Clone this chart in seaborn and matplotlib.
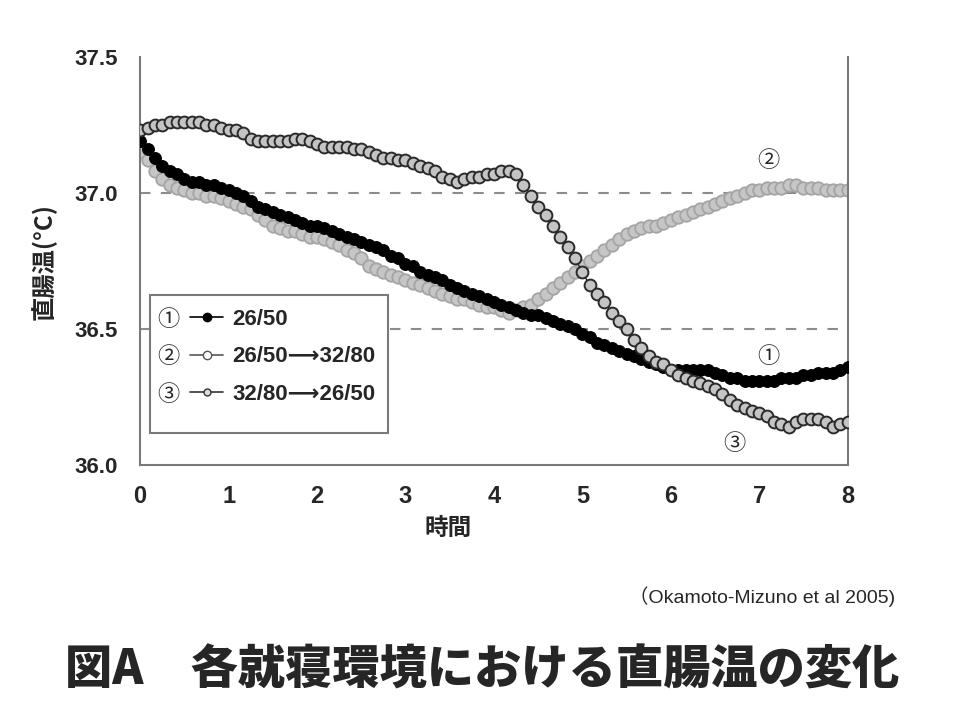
import numpy as np
import matplotlib
matplotlib.use("Agg")
import matplotlib.pyplot as plt
from matplotlib.lines import Line2D
from matplotlib.patches import Rectangle
import seaborn as sns

# time axis: one reading every 5 minutes for 8 hours
hours = np.arange(0, 97) * 5 / 60

# 1: 26/50
rt_1 = [37.19, 37.16, 37.13, 37.10, 37.08, 37.07, 37.05, 37.04, 37.04, 37.03,
        37.03, 37.02, 37.01, 37.00, 36.99, 36.97, 36.95, 36.94, 36.93, 36.92,
        36.91, 36.90, 36.89, 36.88, 36.88, 36.87, 36.86, 36.85, 36.84, 36.83,
        36.82, 36.81, 36.80, 36.79, 36.77, 36.76, 36.74, 36.73, 36.71, 36.70,
        36.69, 36.68, 36.66, 36.65, 36.64, 36.63, 36.62, 36.61, 36.60, 36.59,
        36.58, 36.57, 36.56, 36.55, 36.55, 36.54, 36.53, 36.52, 36.51, 36.50,
        36.48, 36.47, 36.45, 36.44, 36.43, 36.42, 36.41, 36.40, 36.39, 36.38,
        36.37, 36.36, 36.35, 36.35, 36.35, 36.35, 36.35, 36.35, 36.34, 36.33,
        36.32, 36.32, 36.31, 36.31, 36.31, 36.31, 36.31, 36.32, 36.32, 36.32,
        36.33, 36.33, 36.34, 36.34, 36.34, 36.35, 36.36]

# 2: 26/50 -> 32/80
rt_2 = [37.15, 37.12, 37.08, 37.05, 37.03, 37.02, 37.01, 37.00, 37.00, 36.99,
        36.99, 36.98, 36.97, 36.96, 36.95, 36.94, 36.92, 36.90, 36.88, 36.87,
        36.86, 36.86, 36.85, 36.84, 36.84, 36.83, 36.82, 36.81, 36.79, 36.78,
        36.76, 36.73, 36.72, 36.71, 36.70, 36.69, 36.68, 36.67, 36.66, 36.65,
        36.64, 36.63, 36.62, 36.61, 36.61, 36.60, 36.59, 36.58, 36.58, 36.57,
        36.56, 36.57, 36.58, 36.59, 36.61, 36.63, 36.65, 36.67, 36.69, 36.71,
        36.73, 36.75, 36.77, 36.79, 36.81, 36.83, 36.85, 36.86, 36.87, 36.88,
        36.88, 36.89, 36.90, 36.91, 36.92, 36.93, 36.94, 36.95, 36.96, 36.97,
        36.98, 36.99, 37.00, 37.01, 37.01, 37.02, 37.02, 37.02, 37.03, 37.03,
        37.02, 37.02, 37.02, 37.01, 37.01, 37.01, 37.01]

# 3: 32/80 -> 26/50
rt_3 = [37.23, 37.24, 37.25, 37.25, 37.26, 37.26, 37.26, 37.26, 37.26, 37.25,
        37.25, 37.24, 37.23, 37.23, 37.22, 37.20, 37.19, 37.19, 37.19, 37.19,
        37.19, 37.20, 37.20, 37.19, 37.18, 37.17, 37.17, 37.17, 37.17, 37.16,
        37.16, 37.15, 37.14, 37.13, 37.13, 37.12, 37.12, 37.11, 37.10, 37.09,
        37.08, 37.06, 37.05, 37.04, 37.05, 37.06, 37.06, 37.07, 37.07, 37.08,
        37.08, 37.07, 37.03, 36.99, 36.95, 36.92, 36.88, 36.84, 36.80, 36.76,
        36.71, 36.66, 36.63, 36.60, 36.56, 36.53, 36.50, 36.46, 36.43, 36.40,
        36.38, 36.37, 36.35, 36.33, 36.32, 36.31, 36.30, 36.29, 36.28, 36.26,
        36.24, 36.22, 36.21, 36.20, 36.19, 36.18, 36.16, 36.15, 36.14, 36.16,
        36.17, 36.17, 36.17, 36.16, 36.14, 36.15, 36.16]

labels = ["26/50", "26/50\u27f632/80", "32/80\u27f626/50"]
marks = ["\u2460", "\u2461", "\u2462"]
x_ticks = [0, 1, 2, 3, 4, 5, 6, 7, 8]
y_ticks = [36.0, 36.5, 37.0, 37.5]

sns.set_theme(style="white")
plt.rcParams["font.family"] = ["Liberation Sans", "DejaVu Sans", "Noto Sans CJK JP"]

fig = plt.figure(figsize=(9.6, 7.2), dpi=100)
ax = fig.add_axes([0.146, 0.354, 0.737, 0.567])

# dashed reference lines
for yv in [36.5, 37.0]:
    ax.axhline(yv, color="#8c8c8c", lw=1.5, ls=(0, (5, 5)), zorder=1)

sns.lineplot(x=hours, y=rt_2, ax=ax, color="#a8a8a8", lw=1, marker="o",
             markersize=9, markerfacecolor="#c6c6c6", markeredgecolor="#a4a4a4",
             markeredgewidth=1.3, zorder=2)
sns.lineplot(x=hours, y=rt_1, ax=ax, color="black", lw=1, marker="o",
             markersize=8.5, markerfacecolor="black", markeredgecolor="black",
             zorder=3)
sns.lineplot(x=hours, y=rt_3, ax=ax, color="#2a2a2a", lw=1, marker="o",
             markersize=8.5, markerfacecolor="#c4c4c4", markeredgecolor="#2a2a2a",
             markeredgewidth=1.4, zorder=3.5)

ax.set_xlim(0, 8)
ax.set_ylim(36.0, 37.5)
ax.set_xticks(x_ticks)
ax.set_yticks(y_ticks)
ax.set_xticklabels([str(v) for v in x_ticks])
ax.set_yticklabels([f"{v:.1f}" for v in y_ticks])
ax.tick_params(axis="both", direction="in", length=5, width=1.2, color="#777777",
               labelsize=16, pad=16)
ax.tick_params(axis="x", labelsize=17, pad=14)
for lab in ax.get_xticklabels() + ax.get_yticklabels():
    lab.set_fontweight("bold")

for side in ["left", "bottom", "right"]:
    ax.spines[side].set_color("#7a7a7a")
    ax.spines[side].set_linewidth(1.5)
ax.spines["top"].set_visible(False)

ax.set_xlabel("時間", fontsize=17, fontweight="bold",
              family=["Noto Sans CJK JP", "DejaVu Sans"])
ax.set_ylabel("直腸温(°C)", fontsize=17.5, fontweight="bold",
              family=["Noto Sans CJK JP", "DejaVu Sans"])
ax.xaxis.set_label_coords(0.435, -0.125)
ax.yaxis.set_label_coords(-0.118, 0.50)

# legend box
box = Rectangle((0.014, 0.078), 0.336, 0.339, transform=ax.transAxes,
                facecolor="white", edgecolor="#7a7a7a", lw=1.5, zorder=4)
ax.add_patch(box)
handles = [
    Line2D([], [], color="black", lw=1.2, marker="o", markersize=6,
           markerfacecolor="black", markeredgecolor="black"),
    Line2D([], [], color="#555555", lw=1.2, marker="o", markersize=6,
           markerfacecolor="white", markeredgecolor="#555555"),
    Line2D([], [], color="#333333", lw=1.2, marker="o", markersize=5,
           markerfacecolor="#dddddd", markeredgecolor="#333333"),
]
leg = ax.legend(handles, labels, loc="upper left", bbox_to_anchor=(0.058, 0.405),
                frameon=False, fontsize=16, handlelength=1.5, handletextpad=0.4,
                labelspacing=0.75, borderaxespad=0)
leg.set_zorder(5)
for t in leg.get_texts():
    t.set_fontweight("bold")

fig.canvas.draw()
inv = ax.transAxes.inverted()
for t, m in zip(leg.get_texts(), marks):
    bb = t.get_window_extent()
    yc = inv.transform((0, (bb.y0 + bb.y1) / 2))[1]
    ax.text(0.040, yc, m, transform=ax.transAxes, fontsize=16, ha="center",
            va="center", zorder=6, family=["Noto Sans CJK JP", "DejaVu Sans"])

# curve labels
ax.text(7.1, 37.12, "\u2461", fontsize=16, ha="center", va="center",
        family=["Noto Sans CJK JP", "DejaVu Sans"])
ax.text(7.1, 36.40, "\u2460", fontsize=16, ha="center", va="center",
        family=["Noto Sans CJK JP", "DejaVu Sans"])
ax.text(6.72, 36.08, "\u2462", fontsize=16, ha="center", va="center",
        family=["Noto Sans CJK JP", "DejaVu Sans"])

fig.text(0.932, 0.171, "（Okamoto-Mizuno et al 2005)", fontsize=14, ha="right",
         va="center", family=["Liberation Sans", "Noto Sans CJK JP"])
fig.text(0.502, 0.069, "図A\u3000各就寝環境における直腸温の変化", fontsize=34,
         fontweight="heavy", ha="center", va="center",
         family=["Noto Sans CJK JP", "DejaVu Sans"])

fig.savefig("out.png", dpi=100, facecolor="white")
